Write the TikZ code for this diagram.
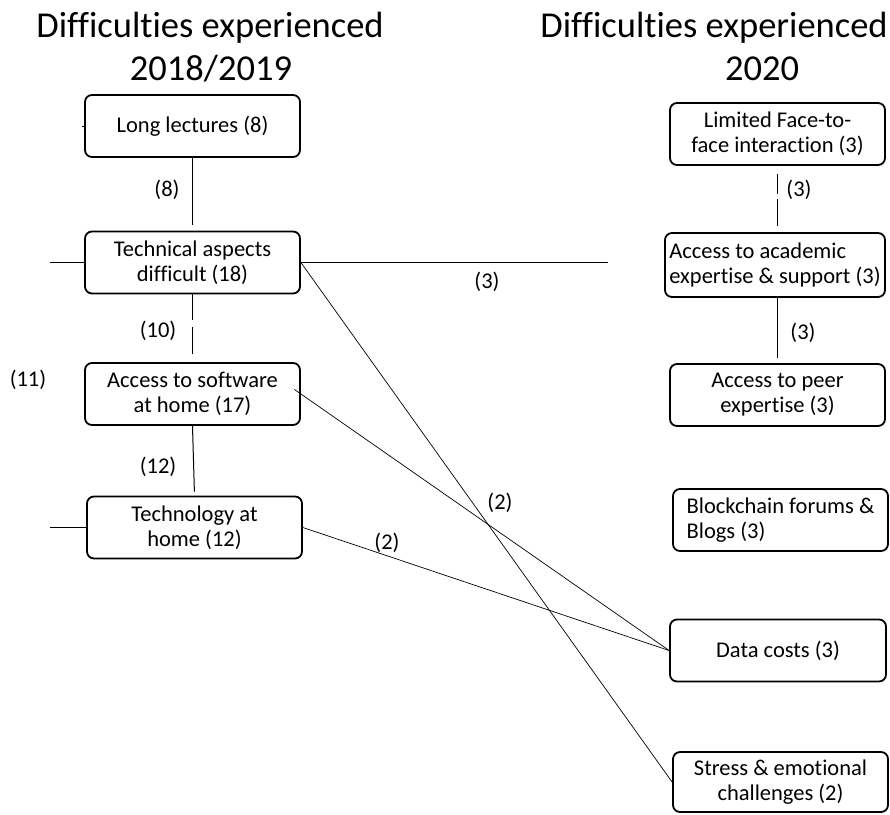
\documentclass[tikz,border=0pt]{standalone}
\usepackage{fontspec}
\setmainfont{Carlito}[Ligatures=NoCommon]
\begin{document}
\begin{tikzpicture}[x=1pt,y=-1pt,
  box/.style={draw, line width=1.8pt, rounded corners=7pt, minimum width=215pt,
    minimum height=62pt, align=center, inner sep=1pt,
    font=\fontsize{22.5}{25}\selectfont},
  lbl/.style={font=\fontsize{22.5}{25}\selectfont, inner sep=0pt},
  title/.style={font=\fontsize{36.5}{42}\selectfont, anchor=base, inner sep=0pt},
  link/.style={line width=1pt},
  thinlink/.style={line width=0.7pt}]
\useasboundingbox (0,0) rectangle (890,814);

% column headings
\node[title] (t1a) at (210,37) {Difficulties experienced};
\node[title] (t1b) at (211,80) {2018/2019};
\node[title] (t2a) at (714,37) {Difficulties experienced};
\node[title] (t2b) at (762,80) {2020};

% 2018/2019 column
\node[box] (ll) at (192.5,126) {Long lectures (8)};
\node[box] (ta) at (192.5,262.5) {Technical aspects\\difficult (18)};
\node[box] (as) at (192.5,394) {Access to software\\at home (17)};
\node[box] (th) at (194.5,527.5) {Technology at\\home (12)};

% 2020 column
\node[box] (lf) at (777.5,134) {Limited Face-to-\\face interaction (3)};
\node[box, minimum width=220pt, minimum height=64pt, align=left, inner xsep=1pt] (aa) at (775,265) {Access to academic\\expertise \& support (3)};
\node[box] (ap) at (777.5,395) {Access to peer\\expertise (3)};
\node[box, align=left] (bf) at (780.5,520) {Blockchain forums \&\\Blogs (3)};
\node[box, minimum width=216pt] (dc) at (778,650.5) {Data costs (3)};
\node[box, minimum height=60pt] (se) at (780.5,782) {Stress \& emotional\\challenges (2)};

% free ends of the stubs
\coordinate (llstub) at (82,126);
\coordinate (tastub) at (50,262.5);
\coordinate (thstub) at (50,527.5);
\coordinate (taright) at (608,262.5);

% vertical links
\draw[link, shorten >=6pt] (ll.south) -- (ta.north);
\draw[link, shorten >=8pt, dash pattern=on 26pt off 7pt on 40pt] (ta.south) -- (as.north);
\draw[link, shorten >=4pt] (as.south) -- (th.north);
\draw[thinlink, shorten <=8pt, shorten >=6pt, dash pattern=on 20pt off 5pt on 40pt] (lf.south -| 777,0) -- (aa.north -| 777,0);
\draw[thinlink, shorten >=5pt] (aa.south -| 777,0) -- (ap.north -| 777,0);

% stubs and horizontal link
\draw[thinlink] (llstub) -- (ll.west);
\draw[link] (tastub) -- (ta.west);
\draw[link] (thstub) -- (th.west);
\draw[link] (ta.east) -- (taright);

% crossing links
\draw[thinlink] (ta.east) -- (se.west);
\draw[thinlink, shorten <=-8pt] (as.east) -- (dc.west);
\draw[thinlink] (th.east) -- (dc.west);

% link counts
\node[lbl] (n8) at (167,190) {(8)};
\node[lbl] (n10) at (158,331) {(10)};
\node[lbl] (n11) at (28,380) {(11)};
\node[lbl] (n12) at (158,467) {(12)};
\node[lbl] (n3a) at (487,282) {(3)};
\node[lbl] (n3b) at (799,190) {(3)};
\node[lbl] (n3c) at (803,333) {(3)};
\node[lbl] (n2a) at (500,503) {(2)};
\node[lbl] (n2b) at (387,543) {(2)};
\end{tikzpicture}
\end{document}
